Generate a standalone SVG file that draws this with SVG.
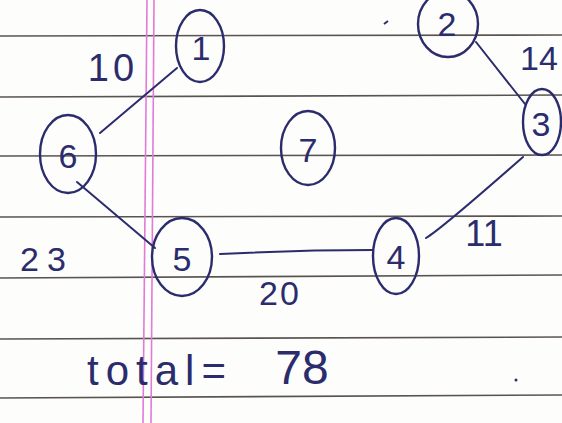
<svg xmlns="http://www.w3.org/2000/svg" width="562" height="423" viewBox="0 0 562 423">
<style>
.rule{stroke:#5a5450;stroke-width:1.6;fill:none}
.margin{stroke:#e27ad8;stroke-width:1.6;fill:none}
.node ellipse{fill:none;stroke:#2b2c6c;stroke-width:2.4}
.node text{font-family:"Liberation Sans","DejaVu Sans",sans-serif;font-size:34px;fill:#2b2c6c;text-anchor:middle}
.edge{stroke:#2b2c6c;stroke-width:2;fill:none;stroke-linecap:round}
.lbl{font-family:"Liberation Sans","DejaVu Sans",sans-serif;fill:#2b2c6c;text-anchor:middle}
</style>
<rect width="562" height="423" fill="#fdfdfc"/>
<g id="paper">
<path class="rule" d="M0 36 L562 35"/>
<path class="rule" d="M0 97 L562 95"/>
<path class="rule" d="M0 156 L562 155"/>
<path class="rule" d="M0 217 L562 216"/>
<path class="rule" d="M0 278 L562 275"/>
<path class="rule" d="M0 339 L562 337"/>
<path class="rule" d="M0 398 L562 395"/>
<path class="margin" d="M147 0 L143 423"/>
<path class="margin" d="M154 0 L151 423"/>
</g>
<g id="connectors">
<path class="edge" d="M100 133 L177 68"/>
<path class="edge" d="M77 182 L155 248"/>
<path class="edge" d="M220 254 Q300 250 373 250"/>
<path class="edge" d="M426 238 Q440 230 523 157"/>
<path class="edge" d="M476 42 L525 104"/>
</g>
<g id="n1" class="node"><ellipse cx="200" cy="46" rx="24" ry="36"/><text x="201" y="60">1</text></g>
<g id="n2" class="node"><ellipse cx="448" cy="24" rx="30" ry="33"/><text x="447" y="36">2</text></g>
<g id="n3" class="node"><ellipse cx="542" cy="122" rx="19" ry="33"/><text x="541" y="136">3</text></g>
<g id="n4" class="node"><ellipse cx="396" cy="256" rx="23" ry="38"/><text x="396" y="269">4</text></g>
<g id="n5" class="node"><ellipse cx="182" cy="257" rx="30" ry="39"/><text x="182" y="271">5</text></g>
<g id="n6" class="node"><ellipse cx="68" cy="154" rx="28" ry="39"/><text x="68" y="168">6</text></g>
<g id="n7" class="node"><ellipse cx="308" cy="148" rx="27" ry="37"/><text x="308" y="162">7</text></g>
<g id="labels">
<text class="lbl" x="113" y="81" font-size="38" letter-spacing="4">10</text>
<text class="lbl" x="539" y="70" font-size="34">14</text>
<text class="lbl" x="47" y="271" font-size="34" letter-spacing="8">23</text>
<text class="lbl" x="484" y="246" font-size="36">11</text>
<text class="lbl" x="280" y="305" font-size="34" letter-spacing="2">20</text>
<text class="lbl" x="160" y="385" font-size="42" letter-spacing="7">total=</text>
<text class="lbl" x="302" y="384" font-size="48">78</text>
</g>
<g id="marks" fill="#2b2c6c">
<path d="M384 24 L388 21" stroke="#2b2c6c" stroke-width="2"/>
<circle cx="516" cy="380" r="1.5"/>
</g>
</svg>
